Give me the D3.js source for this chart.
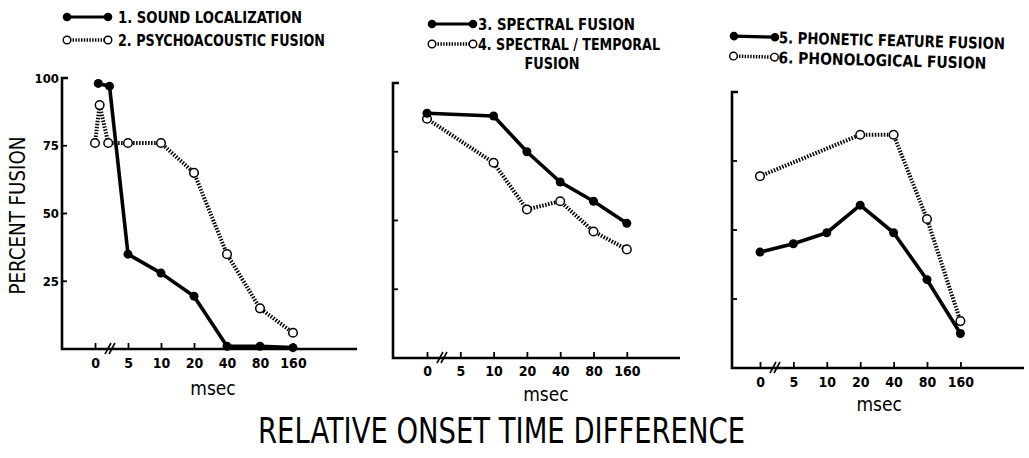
<!DOCTYPE html>
<html>
<head>
<meta charset="utf-8">
<script src="https://cdn.jsdelivr.net/npm/d3@7"></script>
<style>
  body { margin: 0; background: #fff; }
  text { fill: #000; }
</style>
</head>
<body>
<svg id="chart" width="1029" height="458"></svg>
<script>
// x axis categories (msec) and y tick values
const msecTicks = [0, 5, 10, 20, 40, 80, 160];
const yTicks = [25, 50, 75];
const yLabels = ["25", "50", "75", "100"];

// [msec, percent fusion]
const soundLocalization = [[0.5, 98], [2.2, 97], [5, 35], [10, 28], [20, 19.5], [40, 1], [80, 1], [160, 0.5]];
const psychoacousticFusion = [[0, 76], [0.7, 90], [2, 76], [5, 76], [10, 76], [20, 65], [40, 35], [80, 15], [160, 6]];
const spectralFusion = [[0, 89], [10, 88], [20, 75], [40, 64], [80, 57], [160, 49]];
const spectralTemporalFusion = [[0, 87], [10, 71], [20, 54], [40, 57], [80, 46], [160, 39.5]];
const phoneticFeatureFusion = [[0, 42], [5, 45], [10, 49], [20, 59], [40, 49], [80, 32], [160, 12.5]];
const phonologicalFusion = [[0, 69.5], [20, 84.5], [40, 84.5], [80, 54], [160, 17]];

const legendSolid = ["1. SOUND LOCALIZATION", "3. SPECTRAL FUSION", "5. PHONETIC FEATURE FUSION"];
const legendOpen = ["2. PSYCHOACOUSTIC FUSION", "4. SPECTRAL / TEMPORAL", "6. PHONOLOGICAL FUSION"];

const svg = d3.select("#chart");
const condensed = "'DejaVu Sans Condensed', 'Liberation Sans Narrow', 'DejaVu Sans', sans-serif";

// layout of the three panels
const panels = [
  { solid: soundLocalization, open: psychoacousticFusion, left: 62, bottom: 349, top: 78, x0: 95, step: 33, right: 357,
    labels: true, tickY: 368, msecY: 395,
    lg: { x: 63, y1: 17, y2: 40, tx: 118, w1: 184, w2: 207, rot: 0 } },
  { solid: spectralFusion, open: spectralTemporalFusion, left: 393, bottom: 358, top: 83, x0: 427, step: 33.3, right: 680,
    labels: false, tickY: 376, msecY: 401,
    lg: { x: 428, y1: 24, y2: 44, tx: 478, w1: 157, w2: 182, rot: 0, extra: "FUSION", ey: 63, ex: 552, ew: 55 } },
  { solid: phoneticFeatureFusion, open: phonologicalFusion, left: 732, bottom: 368, top: 92, x0: 760, step: 33.4, right: 1024,
    labels: false, tickY: 387, msecY: 411,
    lg: { x: 730, y1: 36, y2: 56, tx: 779, w1: 226, w2: 208, rot: 1.5 } }
];

panels.forEach((p, i) => {
  const g = svg.append("g");
  const x = d3.scaleLinear().domain(msecTicks).range(msecTicks.map((d, k) => p.x0 + k * p.step));
  const y = d3.scaleLinear().domain([0, 100]).range([p.bottom, p.top]);

  // axes lines
  g.append("path")
    .attr("d", `M${p.left + 6},${y(100)}H${p.left}V${p.bottom}H${p.right}`)
    .attr("fill", "none").attr("stroke", "#000").attr("stroke-width", 2.6);

  g.selectAll(".ytick").data(yTicks).join("line")
    .attr("x1", p.left).attr("x2", p.left + 5)
    .attr("y1", d => y(d)).attr("y2", d => y(d))
    .attr("stroke", "#000").attr("stroke-width", 1.8);

  if (p.labels) {
    g.selectAll(".ylab").data([25, 50, 75, 100]).join("text")
      .attr("x", p.left - 3).attr("y", d => y(d) + 4.5)
      .attr("text-anchor", "end")
      .style("font", `bold 13px ${condensed}`)
      .text((d, k) => yLabels[k]);

    g.append("text")
      .attr("transform", `translate(25,${(p.top + p.bottom) / 2 + 2}) rotate(-90)`)
      .attr("text-anchor", "middle")
      .attr("textLength", 158).attr("lengthAdjust", "spacingAndGlyphs")
      .style("font", `22px ${condensed}`)
      .text("PERCENT FUSION");
  }

  // x axis ticks pointing up
  const xAxis = d3.axisBottom(x).tickValues(msecTicks).tickSize(-6).tickPadding(0).tickFormat(d3.format("d"));
  const ax = g.append("g").attr("transform", `translate(0,${p.bottom})`).call(xAxis);
  ax.select(".domain").remove();
  ax.selectAll(".tick line").attr("stroke", "#000").attr("stroke-width", 1.8);
  ax.selectAll(".tick text")
    .attr("y", p.tickY - p.bottom).attr("dy", 0)
    .style("font", `bold 14px ${condensed}`)
    .attr("fill", "#000");

  // axis break marks
  const bx = x(0) + 13;
  [0, 4].forEach(o => {
    g.append("line")
      .attr("x1", bx + o - 3).attr("x2", bx + o + 3)
      .attr("y1", p.bottom + 5).attr("y2", p.bottom - 6)
      .attr("stroke", "#000").attr("stroke-width", 1.6);
  });

  g.append("text")
    .attr("x", x(20) + 19).attr("y", p.msecY)
    .attr("text-anchor", "middle")
    .style("font", `19px ${condensed}`)
    .text("msec");

  const line = d3.line().x(d => x(d[0])).y(d => y(d[1]));

  // open series: hatched line + open circles
  g.append("path").datum(p.open)
    .attr("d", line).attr("fill", "none")
    .attr("stroke", "#000").attr("stroke-width", 4)
    .attr("stroke-dasharray", "1.5,1.5");
  g.selectAll(".oc").data(p.open).join("circle")
    .attr("cx", d => x(d[0])).attr("cy", d => y(d[1])).attr("r", 4.3)
    .attr("fill", "#fff").attr("stroke", "#000").attr("stroke-width", 1.5);

  // solid series
  g.append("path").datum(p.solid)
    .attr("d", line).attr("fill", "none")
    .attr("stroke", "#000").attr("stroke-width", 3.6)
    .attr("stroke-linejoin", "round");
  g.selectAll(".sc").data(p.solid).join("circle")
    .attr("cx", d => x(d[0])).attr("cy", d => y(d[1])).attr("r", 4.5)
    .attr("fill", "#000");

  // legend
  const L = p.lg;
  const lg = svg.append("g").attr("transform", `rotate(${L.rot},${L.x},${L.y1})`);
  lg.append("line").attr("x1", L.x + 4).attr("x2", L.x + 45).attr("y1", L.y1).attr("y2", L.y1)
    .attr("stroke", "#000").attr("stroke-width", 3.2);
  lg.selectAll(".lsc").data([L.x + 4, L.x + 45]).join("circle")
    .attr("cx", d => d).attr("cy", L.y1).attr("r", 4.3).attr("fill", "#000");
  lg.append("line").attr("x1", L.x + 4).attr("x2", L.x + 45).attr("y1", L.y2).attr("y2", L.y2)
    .attr("stroke", "#000").attr("stroke-width", 3.5).attr("stroke-dasharray", "1.4,1.4");
  lg.selectAll(".loc").data([L.x + 4, L.x + 45]).join("circle")
    .attr("cx", d => d).attr("cy", L.y2).attr("r", 3.8)
    .attr("fill", "#fff").attr("stroke", "#000").attr("stroke-width", 1.4);
  lg.append("text").attr("x", L.tx).attr("y", L.y1 + 6)
    .attr("textLength", L.w1).attr("lengthAdjust", "spacingAndGlyphs")
    .style("font", `bold 16px ${condensed}`).text(legendSolid[i]);
  lg.append("text").attr("x", L.tx).attr("y", L.y2 + 6)
    .attr("textLength", L.w2).attr("lengthAdjust", "spacingAndGlyphs")
    .style("font", `bold 16px ${condensed}`).text(legendOpen[i]);
  if (L.extra) {
    lg.append("text").attr("x", L.ex).attr("y", L.ey + 6)
      .attr("text-anchor", "middle")
      .attr("textLength", L.ew).attr("lengthAdjust", "spacingAndGlyphs")
      .style("font", `bold 15px ${condensed}`).text(L.extra);
  }
});

svg.append("text")
  .attr("x", 258).attr("y", 443)
  .attr("textLength", 487).attr("lengthAdjust", "spacingAndGlyphs")
  .style("font", `35px ${condensed}`)
  .text("RELATIVE ONSET TIME DIFFERENCE");
</script>
</body>
</html>
